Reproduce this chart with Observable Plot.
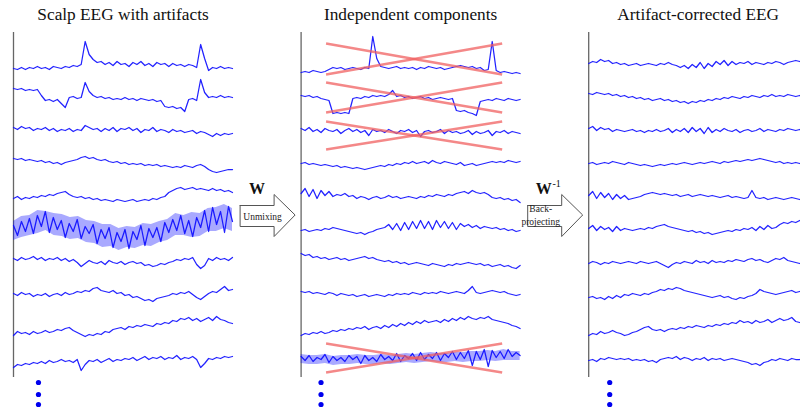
<!DOCTYPE html>
<html><head><meta charset="utf-8">
<script src="https://cdn.jsdelivr.net/npm/d3@7"></script>
<script src="https://cdn.jsdelivr.net/npm/@observablehq/plot@0.6"></script>
<style>html,body{margin:0;padding:0;background:#fff;overflow:hidden}</style>
</head><body><div id="chart"></div>
<script>
// ---- Data ----
const panelTitles = ["Scalp EEG with artifacts", "Independent components", "Artifact-corrected EEG"];

// Scalp EEG (10 channels, amplitude in µV-like units, positive = up)
const scalp = [
  [-4,-5,-3,-5,-3,-4,-2,-4,-3,-5,-2,-3,-4,-2,-3,-1,-2,0,23,10,5,2,3,0,2,-1,3,0,1,-2,2,0,3,-1,1,-2,2,0,1,-2,1,-1,0,-2,0,-1,-3,20,6,-6,-3,-4,-2,-4,-3,-4],
  [9,8,9,7,8,7,8,2,-3,-2,-4,-2,-6,-10,0,1,-1,0,15,6,2,0,1,-1,0,-2,-1,-2,0,-2,-1,-3,-1,-2,-3,-2,-4,-3,-9,-10,-9,-11,-10,-14,-2,-1,-3,18,5,0,1,0,2,0,1,0],
  [3,1,4,2,3,0,2,1,3,0,2,-1,1,0,2,-1,1,0,5,3,1,2,-1,2,0,3,-1,2,1,3,0,2,-2,1,0,3,-1,1,0,-2,1,-1,0,-2,-1,0,-3,-1,-2,-4,-6,-3,-5,-3,-4,-3],
  [5,4,5,3,4,3,2,3,1,2,0,1,-1,1,2,3,4,6,7,5,6,4,3,4,2,1,2,0,1,-1,0,-1,0,-2,-1,-2,-1,-3,-2,-3,-4,-3,-4,-2,-3,-4,-2,-1,-3,-6,-8,-9,-8,-7,-6,-6],
  [-2,0,-3,-1,-2,0,-1,1,0,2,1,3,4,5,2,0,-1,0,-2,-1,-3,-2,-4,-3,-4,-5,-3,-4,-5,-4,-3,-5,-4,-3,-4,-2,-3,-1,0,4,6,8,9,7,8,9,7,8,7,6,8,6,7,5,6,4],
  [4,-6,8,-2,11,-4,14,3,18,-3,12,0,9,-8,6,-2,10,-9,3,-4,5,-14,0,-9,2,-18,-3,-12,0,-19,-2,-10,4,-16,1,-8,2,-12,7,-3,10,-1,14,-4,9,-7,12,2,19,-2,22,5,18,-3,23,8],
  [4,2,5,3,4,6,3,5,2,4,3,5,2,4,1,3,0,-4,-1,2,0,-1,1,-2,2,0,-1,1,-2,0,1,-1,0,-3,-2,-4,-3,-1,-2,0,1,3,2,4,3,5,-2,-6,-3,4,2,5,3,4,2,5],
  [2,0,3,1,2,-1,1,0,2,-1,1,2,0,3,1,2,4,3,5,4,7,8,5,4,3,5,2,3,0,1,-2,-1,-3,-5,-4,-6,-3,-2,-1,0,2,1,3,2,4,1,-2,-4,-1,2,4,3,6,9,5,6],
  [-7,-3,-5,-4,-6,-3,-5,-4,-2,-4,-3,-1,-2,0,1,-2,-4,-6,-8,-6,-7,-5,-6,-3,-4,-1,0,1,-1,2,1,3,2,4,3,2,5,4,6,5,8,7,10,9,11,8,10,7,9,11,8,12,9,8,6,5],
  [-6,-3,-4,-2,-3,-1,-2,0,-2,1,-1,0,2,0,1,-1,2,-9,-3,1,0,2,-1,1,3,0,2,1,3,2,4,1,3,5,2,4,3,5,2,4,3,6,2,4,3,5,2,-6,-2,3,2,4,3,5,4,5]
];
// envelope of the heavily contaminated scalp channel 6
const scalpBandUpper = [8,13,14,19,18,16,15,12,13,9,8,5,5,1,3,2,6,5,8,10,16,14,17,16,21,22,25,21];
const scalpBandLower = [-11,-8,-6,-4,-1,-6,-7,-10,-9,-13,-14,-18,-17,-21,-18,-19,-16,-17,-13,-11,-6,-6,-8,-7,-2,-2,1,-2];

// Independent components
const components = [
  [-8,-7,-8,-6,-7,-8,-7,-5,-3,-4,-3,-5,-4,-3,-4,-5,-3,-4,28,6,-2,-3,-4,-3,-2,-4,-3,-4,-3,-5,-3,-4,-2,-3,-4,-3,-5,-4,-3,-2,-1,-2,-3,-2,-4,-3,-6,-5,23,-6,-8,-7,-8,-9,-8,-9],
  [2,1,2,0,1,-1,-2,-3,-16,-15,-16,-15,-16,-1,0,-1,1,0,2,1,2,1,3,7,1,2,0,1,-1,0,1,-1,0,-2,-1,0,-1,-2,-1,-13,-14,-13,-15,-16,-18,-4,-3,-2,-3,-1,-2,-3,-1,-2,-3,-2],
  [2,0,3,-1,1,-2,2,0,-1,1,-3,0,2,-1,1,-2,0,-5,1,-1,0,-2,1,-1,-3,0,-1,1,-2,0,-6,-1,0,-2,-1,1,-3,0,-2,-1,-3,-2,0,-4,-1,-3,-2,0,-5,-1,-2,0,-3,-1,-2,-3],
  [0,1,-1,0,-1,-2,-1,-2,-3,-2,-4,-3,-4,-5,-4,-5,-6,-5,-4,-3,-2,-3,-1,-2,0,-1,1,0,2,0,1,2,0,3,1,0,2,1,0,-1,1,-2,-1,0,-2,-1,0,1,2,1,2,1,3,2,1,2],
  [3,8,0,7,-2,6,1,5,0,2,1,3,0,1,-2,0,-1,-3,-1,0,-2,-1,1,-1,0,-2,-1,0,-1,-2,0,-1,1,0,2,1,0,2,1,3,4,5,3,6,4,3,4,2,-1,-2,-1,-3,-2,-4,-3,-6],
  [-1,0,-2,-1,0,-1,1,0,2,1,0,-1,-2,-3,-4,-3,-5,-3,-2,0,1,2,5,0,6,-1,7,0,8,1,9,1,8,0,9,2,8,1,7,0,6,3,5,2,4,1,3,2,1,2,0,1,-1,0,-2,-1],
  [9,7,8,5,6,4,5,3,4,5,3,4,2,3,4,5,6,4,5,3,2,1,2,0,1,-1,0,-2,-1,0,-1,-2,-3,-1,-2,-3,-4,-2,-3,-1,-2,-1,0,-1,-2,-1,-3,-2,-4,-3,-2,-4,-3,-5,-6,-3],
  [4,3,4,2,3,2,1,3,2,0,2,1,0,1,-1,0,1,-1,0,1,0,-1,1,0,2,1,2,1,3,2,1,3,2,3,2,4,3,2,3,4,3,2,5,9,3,2,3,4,5,4,3,4,2,1,0,1],
  [-7,-5,-6,-4,-5,-3,-5,-4,-2,-3,-1,-2,0,-1,1,0,2,-1,1,2,0,3,1,4,2,5,3,6,4,7,5,8,6,7,8,6,9,7,10,8,11,9,12,10,9,11,10,12,9,8,7,6,5,3,2,0],
  [5,1,6,0,4,2,7,-1,5,1,4,0,6,2,5,-2,6,1,4,0,7,2,5,1,8,0,6,3,8,1,9,2,7,3,9,1,8,4,10,2,9,3,11,-4,10,2,12,-5,11,4,10,3,12,5,9,6]
];
const icBandUpper = [7,6,6,7,5,6,6,7,6,6,7,6,7,8,7,8,9,8,8,9,9,10,10,11,10,12,10,10];
const icBandLower = [-2,-3,-3,-2,-4,-3,-3,-2,-3,-3,-2,-3,-2,-1,-2,-1,0,-1,-1,0,-1,0,0,1,0,1,1,1];

// Artifact-corrected EEG
const corrected = [
  [1,3,2,5,3,4,1,2,0,1,-1,0,1,-1,0,1,0,-1,1,0,2,0,-1,-3,-1,-4,0,-3,2,-4,1,-2,3,0,4,-1,3,0,2,1,3,0,2,1,0,2,1,3,2,0,2,3,4,3,4,3],
  [4,3,5,4,3,4,2,3,1,2,0,1,-1,0,-2,-1,-3,-2,-1,-3,-2,-4,-3,-5,-4,-6,-4,-5,-3,-4,-2,-3,-1,-2,0,-1,1,0,-1,1,0,2,1,0,2,1,3,1,2,1,3,2,1,2,1,2],
  [2,4,0,3,1,2,-1,1,0,-1,0,1,-1,0,-2,0,-1,1,-1,0,2,-2,1,-1,2,-2,3,-1,2,-3,3,-2,1,-1,2,0,-1,1,-2,0,1,-1,0,2,-1,1,0,-1,1,0,2,1,0,1,-1,0],
  [0,1,-1,0,1,0,2,1,0,-1,1,0,-1,-2,-1,-2,-3,-2,-1,-2,-1,0,-1,0,1,0,-1,0,1,0,1,2,1,0,2,1,2,3,2,3,4,3,4,5,4,3,2,1,2,0,1,0,1,0,1,0],
  [1,5,-2,4,-1,3,-3,2,-2,1,-3,-2,-1,0,2,3,4,3,2,3,2,1,2,0,1,2,0,1,2,1,0,1,0,-1,0,1,-1,0,-1,-2,-1,6,-1,-2,-1,-3,-2,-1,-2,-3,-2,-1,-2,-3,-2,-2],
  [1,4,-1,3,0,2,-2,3,-1,1,0,-1,0,1,0,2,1,3,4,5,3,2,1,0,-1,-2,-1,-3,-2,-4,-3,-5,-4,-3,-2,-1,-2,0,-1,1,0,2,-1,3,0,4,1,2,5,7,6,8,7,9,8,9],
  [-1,1,0,-2,0,-1,1,0,-1,0,1,0,-1,1,0,-1,0,1,-1,-3,-5,-2,0,-1,1,0,-1,2,0,1,-1,2,0,1,0,2,1,3,2,1,3,4,2,3,1,0,2,4,3,5,2,1,0,-1,0,1],
  [-2,-1,-3,-2,-4,-1,-3,0,-2,1,0,2,1,0,2,1,3,4,6,5,7,6,8,7,5,4,3,2,1,0,-1,-2,-1,0,-2,-1,-3,-4,-2,-3,-1,0,2,6,4,3,2,1,2,3,4,5,3,4,5,4],
  [-7,-5,-6,-3,-5,-4,-2,-4,-5,-7,-6,-4,-3,-1,1,2,-1,-2,-1,-3,-1,0,-1,1,0,2,1,3,2,1,3,2,4,3,5,4,6,5,8,6,7,5,8,6,7,9,6,8,10,8,9,11,7,6,5,6],
  [1,2,0,3,2,4,3,2,3,2,3,1,2,1,2,0,1,-1,2,3,4,3,5,2,4,3,1,3,2,4,1,3,2,3,1,2,3,2,1,0,-1,-3,-2,-4,-1,0,2,1,3,2,1,3,2,2,3,2]
];

// Components rejected as artifacts (crossed out) and the extent of each cross (amplitude units)
const rejected = [0, 1, 2, 9];
const crossHigh = [21, 15, 9, 18];
const crossLow = [-10, -15, -19, -11];

// Arrow labels
const arrowLabels = [["Unmixing"], ["Back-", "projecting"]];

// ---- Layout (time units: one panel spans 1 time unit) ----
const PX = 219;                 // pixels per time unit
const STEP = 287.6 / PX;        // panel spacing
const ROW = 33;                 // channel spacing (amplitude units)
const serif = "Liberation Serif, Times New Roman, serif";
const blue = "#0a0aff";

const lines = [];
[scalp, components, corrected].forEach((set, p) => set.forEach((vals, c) => vals.forEach((v, i) =>
  lines.push({key: `${p}-${c}`, x: p * STEP + i / (vals.length - 1), y: -c * ROW + v}))));

const bands = [];
[[0, 5, scalpBandUpper, scalpBandLower], [1, 9, icBandUpper, icBandLower]].forEach(([p, c, up, lo]) =>
  up.forEach((u, i) => bands.push({key: `${p}-${c}`, x: p * STEP + i / (up.length - 1), y1: -c * ROW + lo[i], y2: -c * ROW + u})));

const crossX0 = STEP + 0.114, crossX1 = STEP + 0.918;
const crosses = [];
rejected.forEach((c, k) => {
  crosses.push({x1: crossX0, y1: -c * ROW + crossHigh[k], x2: crossX1, y2: -c * ROW + crossLow[k]});
  crosses.push({x1: crossX0, y1: -c * ROW + crossLow[k], x2: crossX1, y2: -c * ROW + crossHigh[k]});
});

const dotOffsets = [0.114, 0.091, 0.096];
const dots = [];
dotOffsets.forEach((o, p) => [-318, -330, -340].forEach(y => dots.push({x: p * STEP + o, y})));

const arrowRelX = [-61, -27, -27, -6, -27, -27, -61, -61].map(d => d / PX);
const arrowY = [-141, -141, -130, -150.5, -172, -162, -162, -141];
const arrows = [];
[1, 2].forEach(p => arrowRelX.forEach((dx, i) => arrows.push({a: p, x: p * STEP + dx, y: arrowY[i]})));

const titles = panelTitles.map((t, p) => ({t, x: p * STEP + 0.5, y: 50}));

const labelTexts = [];
arrowLabels[0].forEach((t, i) => labelTexts.push({t, x: STEP - 38.5 / PX, y: -152}));
arrowLabels[1].forEach((t, i) => labelTexts.push({t, x: 2 * STEP - 48 / PX, y: -144 - 13 * i}));

const plot = Plot.plot({
  width: 800, height: 408,
  margin: 0,
  x: {domain: [-13 / PX, (800 - 13) / PX], axis: null},
  y: {domain: [64 - 408, 64], axis: null},
  style: {background: "white"},
  marks: [
    Plot.ruleX([0, 1, 2], {x: p => p * STEP, y1: 32, y2: -313, stroke: "#666", strokeWidth: 1.3}),
    Plot.areaY(bands, {x: "x", y1: "y1", y2: "y2", z: "key", fill: blue, fillOpacity: 0.35}),
    Plot.line(lines, {x: "x", y: "y", z: "key", stroke: blue, strokeWidth: 1.25, strokeOpacity: 0.9}),
    Plot.link(crosses, {x1: "x1", y1: "y1", x2: "x2", y2: "y2", stroke: "#f06060", strokeWidth: 2.6, strokeOpacity: 0.75}),
    Plot.dot(dots, {x: "x", y: "y", r: 2.6, fill: "#0000ee", stroke: "none"}),
    Plot.line(arrows, {x: "x", y: "y", z: "a", fill: "white", stroke: "#555", strokeWidth: 1}),
    Plot.text(titles, {x: "x", y: "y", text: "t", fontFamily: serif, fontSize: 17.3, fill: "#111", lineAnchor: "middle"}),
    Plot.text([{x: STEP - 44 / PX, y: -124}], {x: "x", y: "y", text: () => "W", fontFamily: serif, fontSize: 16, fontWeight: "bold", fill: "#111"}),
    Plot.text([{x: 2 * STEP - 45 / PX, y: -124}], {x: "x", y: "y", text: () => "W", fontFamily: serif, fontSize: 16, fontWeight: "bold", fill: "#111"}),
    Plot.text([{x: 2 * STEP - 32 / PX, y: -119}], {x: "x", y: "y", text: () => "-1", fontFamily: serif, fontSize: 10, fill: "#111"}),
    Plot.text(labelTexts, {x: "x", y: "y", text: "t", fontFamily: serif, fontSize: 9.5, fill: "#222"})
  ]
});
document.getElementById("chart").appendChild(plot);
</script>
</body></html>
